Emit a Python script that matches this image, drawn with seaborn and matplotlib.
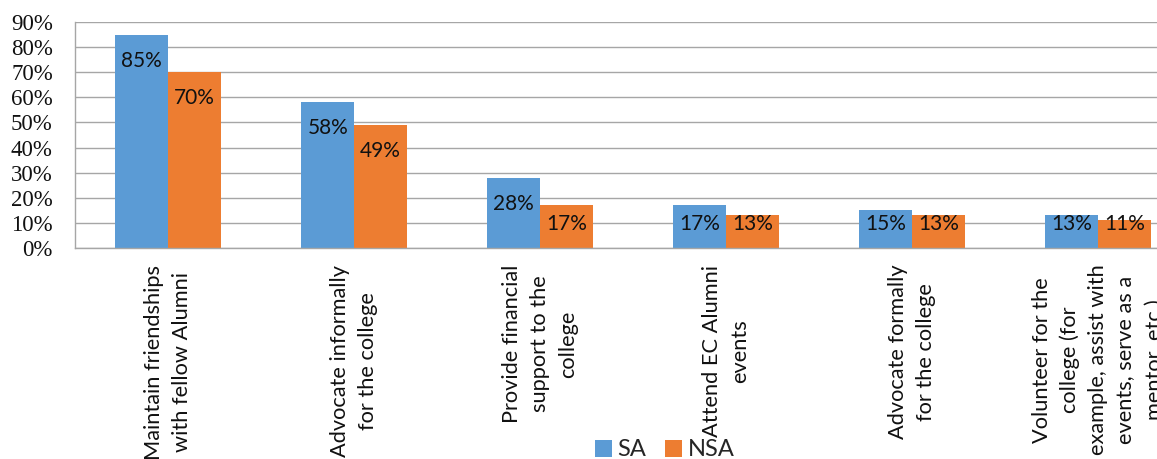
import matplotlib
matplotlib.use("Agg")
import matplotlib.pyplot as plt
from matplotlib.patches import Patch
import numpy as np
import pandas as pd
import seaborn as sns

# ---- data -------------------------------------------------------------
categories = [
    "Maintain friendships\nwith fellow Alumni",
    "Advocate informally\nfor the college",
    "Provide financial\nsupport to the\ncollege",
    "Attend EC Alumni\nevents",
    "Advocate formally\nfor the college",
    "Volunteer for the\ncollege (for\nexample, assist with\nevents, serve as a\nmentor, etc.)",
]
sa_values = [85, 58, 28, 17, 15, 13]
nsa_values = [70, 49, 17, 13, 13, 11]
series_names = ["SA", "NSA"]
series_colors = ["#5B9BD5", "#ED7D31"]
y_ticks = list(range(0, 100, 10))
y_tick_labels = [f"{t}%" for t in y_ticks]

df = pd.DataFrame({
    "category": categories * 2,
    "group": [series_names[0]] * len(categories) + [series_names[1]] * len(categories),
    "value": sa_values + nsa_values,
})

# ---- style ------------------------------------------------------------
sns.set_theme(style="white")
plt.rcParams["font.family"] = ["Lato", "DejaVu Sans"]
grid_color = "#A6A6A6"

W, H = 1157, 459
fig = plt.figure(figsize=(W / 100, H / 100), dpi=100)
fig.patch.set_facecolor("white")

# plot area (the last category runs past the right edge of the canvas)
left_px, right_px = 75, 75 + 6 * 186
top_px, bottom_px = 22, 248
ax = fig.add_axes([left_px / W, 1 - bottom_px / H,
                   (right_px - left_px) / W, (bottom_px - top_px) / H])

sns.barplot(data=df, x="category", y="value", hue="group",
            order=categories, hue_order=series_names, palette=series_colors,
            saturation=1, width=0.565, gap=0, linewidth=0,
            legend=False, ax=ax)

# value labels just inside the top of each bar
for container, vals in zip(ax.containers, [sa_values, nsa_values]):
    for patch, v in zip(container, vals):
        x = patch.get_x() + patch.get_width() / 2
        y = max(v - 10.4, 9.4)
        ax.text(x, y, f"{v}%", ha="center", va="center",
                fontsize=15, color="#111111")

# y axis
ax.set_ylim(0, 90)
ax.set_yticks(y_ticks)
ax.set_yticklabels(y_tick_labels, fontfamily="Liberation Serif", fontsize=16.5)
ax.tick_params(axis="y", length=8, width=1, color=grid_color, pad=8,
               direction="out", labelcolor="#111111")
ax.yaxis.grid(True, color=grid_color, linewidth=1)
ax.set_axisbelow(True)

# x axis: labels at category centres, tick marks at boundaries
ax.set_xlim(-0.5, 5.5)
ax.set_xticks(range(len(categories)))
ax.set_xticklabels(categories, rotation=90, ha="center", va="top",
                   multialignment="center", linespacing=1.5, fontsize=15.7)
ax.tick_params(axis="x", which="major", length=0, pad=12, labelcolor="#111111")
ax.set_xticks(np.arange(-0.5, len(categories), 1), minor=True)
ax.tick_params(axis="x", which="minor", length=7, width=1, color=grid_color,
               direction="out")
ax.set_xlabel("")
ax.set_ylabel("")

for side in ["top", "right"]:
    ax.spines[side].set_visible(False)
for side in ["left", "bottom"]:
    ax.spines[side].set_color(grid_color)
    ax.spines[side].set_linewidth(1)

# legend below the plot
handles = [Patch(facecolor=c, edgecolor="none", label=n)
           for n, c in zip(series_names, series_colors)]
fig.legend(handles=handles, loc="center", bbox_to_anchor=(665 / W, 1 - 450 / H),
           ncol=2, frameon=False, fontsize=17, handlelength=0.7,
           handleheight=0.7, handletextpad=0.25, columnspacing=0.8,
           borderaxespad=0, borderpad=0)

fig.savefig("out.png", dpi=100, facecolor="white")
